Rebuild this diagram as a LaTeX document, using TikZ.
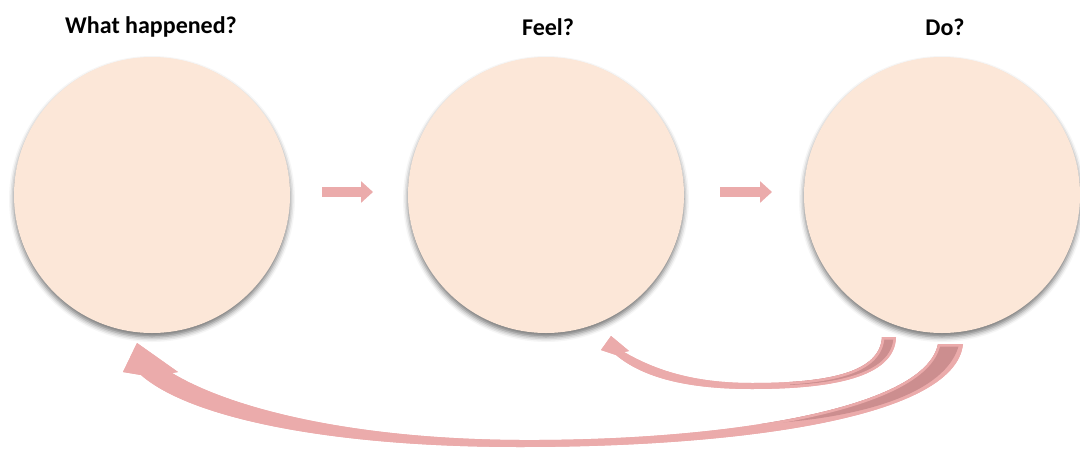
\documentclass[tikz,border=0pt]{standalone}
\usepackage{fontspec}
\setmainfont{Carlito}
\usetikzlibrary{shadows.blur,arrows.meta}
\definecolor{peach}{HTML}{FCE7D8}
\definecolor{arrowpink}{HTML}{EBABAB}
\definecolor{arrowdark}{HTML}{CC8E8F}
\tikzset{
  bubble/.style={circle, fill=peach, minimum size=276pt, inner sep=0pt,
    blur shadow={shadow xshift=0pt, shadow yshift=-4pt, shadow blur radius=5pt, shadow opacity=55}},
  title/.style={font=\fontsize{24}{28}\selectfont\bfseries, text=black, anchor=center},
  smallarrow/.style={draw=arrowpink, line width=10pt, -{Triangle[width=21pt,length=12pt]}},
  curvearrow/.style={fill=arrowpink, draw=none},
  curvedark/.style={fill=arrowdark, draw=none},
  curverim/.style={draw=arrowpink, line width=5pt, line join=round}
}
\newcommand\outerarrowpath{(963,344) .. controls (955,420) and (730,447) .. (520,447)
   .. controls (330,447) and (190,418) .. (141,375)
   -- (123,372) -- (137,343) -- (178,372) -- (172,373)
   .. controls (230,408) and (350,439) .. (520,440)
   .. controls (720,441) and (925,410) .. (938,344) -- cycle}
\newcommand\innerarrowpath{(896,337) .. controls (895,378) and (830,389) .. (752,389)
   .. controls (680,389) and (640,375) .. (616,355)
   -- (601,350) -- (611,336) -- (629,351) -- (624,352)
   .. controls (660,373) and (700,383) .. (752,383)
   .. controls (830,383) and (880,372) .. (882,337) -- cycle}
\begin{document}
\begin{tikzpicture}[x=1pt,y=-1pt]
\useasboundingbox (0,0) rectangle (1080,450);
% titles
\node[title] (t1) at (151,27) {What happened?};
\node[title] (t2) at (548,27) {Feel?};
\node[title] (t3) at (945,27) {Do?};
% circles
\node[bubble] (c1) at (152,195) {};
\node[bubble] (c2) at (546,195) {};
\node[bubble] (c3) at (942,195) {};
% small straight arrows
\coordinate (a1s) at (322,192);
\coordinate (a1e) at (373,192);
\coordinate (a2s) at (720,192);
\coordinate (a2e) at (772,192);
\draw[smallarrow] (a1s) -- (a1e);
\draw[smallarrow] (a2s) -- (a2e);
% outer curved arrow (Do? -> What happened?)
\fill[curvearrow] \outerarrowpath;
\begin{scope}
  \clip \outerarrowpath;
  \fill[curvedark] (962,330) -- (960,340) .. controls (952,390) and (870,418) .. (760,424)
     -- (760,405) .. controls (870,395) and (925,380) .. (925,330) -- cycle;
  \draw[curverim] \outerarrowpath;
\end{scope}
% inner curved arrow (Do? -> Feel?)
\fill[curvearrow] \innerarrowpath;
\begin{scope}
  \clip \innerarrowpath;
  \fill[curvedark] (896,325) -- (895,333) .. controls (892,370) and (855,382) .. (790,385)
     -- (790,372) .. controls (860,368) and (875,358) .. (875,325) -- cycle;
  \draw[curverim] \innerarrowpath;
\end{scope}
\end{tikzpicture}
\end{document}
